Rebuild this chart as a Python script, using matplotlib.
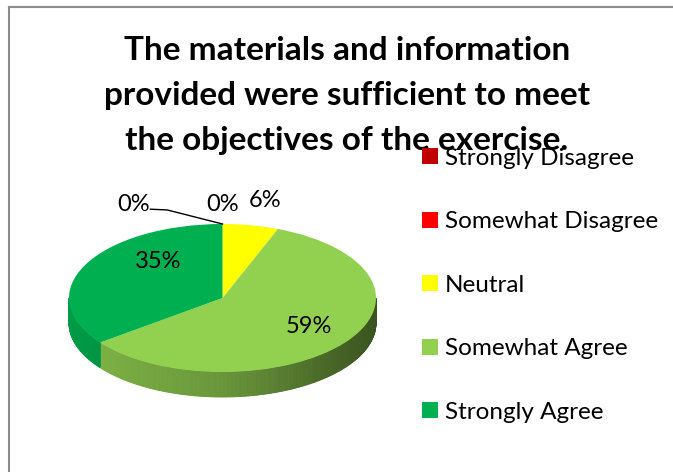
import numpy as np
import matplotlib
matplotlib.use("Agg")
import matplotlib.pyplot as plt
from matplotlib.patches import Polygon
from matplotlib.colors import to_rgb

# data
categories = ["Strongly Disagree", "Somewhat Disagree", "Neutral", "Somewhat Agree", "Strongly Agree"]
counts = [0, 0, 1, 10, 6]
colors = ["#C00000", "#FF0000", "#FFFF00", "#92D050", "#00B050"]
title = "The materials and information\nprovided were sufficient to meet\nthe objectives of the exercise."

plt.rcParams['font.family'] = ['Lato', 'DejaVu Sans']

W, H = 673, 472
fig = plt.figure(figsize=(W / 100, H / 100), dpi=100)

# chart area border (only left and top edges show)
fig.add_artist(plt.Line2D([9 / W, 9 / W], [0, 1 - 7 / H], color="#8c8c8c", lw=1.5))
fig.add_artist(plt.Line2D([9 / W, 1], [1 - 7 / H, 1 - 7 / H], color="#8c8c8c", lw=1.5))

# pie top face, squashed into an ellipse
ax = fig.add_axes([69 / W, 100 / H, 307 / W, 148 / H])
wedges, texts, autotexts = ax.pie(counts, colors=colors, startangle=90, counterclock=False,
                                  autopct='%1.0f%%', pctdistance=0.62,
                                  textprops=dict(fontsize=17, color="black"))
ax.set_aspect('auto')
ax.set_xlim(-1, 1)
ax.set_ylim(-1, 1)

# side of the pie (front half only), shaded darker to the right
depth = 25 / 74
for w, c in zip(wedges, colors):
    base = np.array(to_rgb(c))
    th = np.arange(w.theta1, w.theta2 + 0.5, 0.5)
    if len(th) < 2:
        continue
    th[-1] = w.theta2
    for a0, a1 in zip(th[:-1], th[1:]):
        mid = np.radians((a0 + a1) / 2)
        if np.sin(mid) >= 0:
            continue
        r0, r1 = np.radians(a0), np.radians(a1)
        f = np.interp(np.cos(mid), [-1, 0, 1], [0.88, 0.72, 0.40])
        col = np.clip(base * f, 0, 1)
        pts = [(np.cos(r0), np.sin(r0)), (np.cos(r1), np.sin(r1)),
               (np.cos(r1), np.sin(r1) - depth), (np.cos(r0), np.sin(r0) - depth)]
        ax.add_patch(Polygon(pts, closed=True, facecolor=col, edgecolor=col, lw=0.6,
                             clip_on=False, zorder=0.5))

# data labels
autotexts[0].set_position((-0.58, 1.27))
autotexts[1].set_position((0.0, 1.27))
autotexts[2].set_position((0.28, 1.32))
autotexts[3].set_position((0.56, -0.38))
autotexts[4].set_position((-0.42, 0.49))
for t in autotexts:
    t.set_clip_on(False)
ax.plot([-0.47, -0.36, 0.0], [1.20, 1.19, 1.0], color="black", lw=1, clip_on=False)

fig.text(347 / W, 1 - 36 / H, title, ha="center", va="top", fontsize=24,
         fontweight="bold", linespacing=1.67)

fig.legend(wedges, categories, loc="upper left", bbox_to_anchor=(412 / W, 1 - 138 / H),
           frameon=False, fontsize=17.5, handlelength=0.65, handleheight=0.65,
           handletextpad=0.3, labelspacing=1.75, borderaxespad=0)

fig.savefig("out.png", dpi=100)
